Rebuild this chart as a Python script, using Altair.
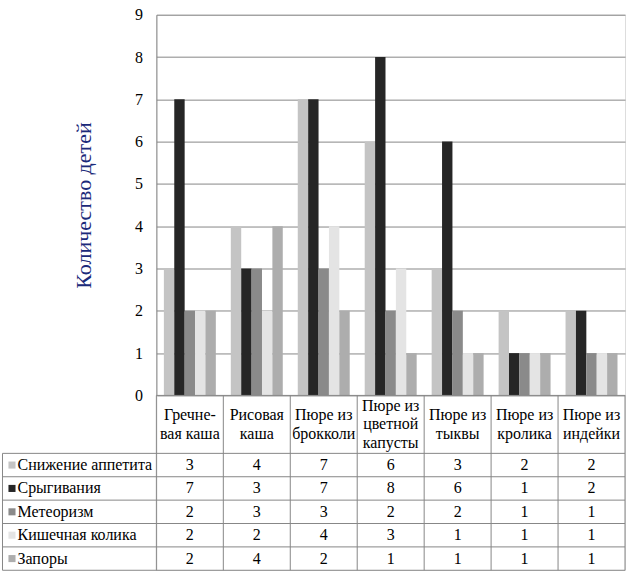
import altair as alt
import pandas as pd

# ---- data ----
categories = ["Гречне-\nвая каша", "Рисовая\nкаша", "Пюре из\nброкколи",
              "Пюре из\nцветной\nкапусты", "Пюре из\nтыквы", "Пюре из\nкролика",
              "Пюре из\nиндейки"]
series = ["Снижение аппетита", "Срыгивания", "Метеоризм", "Кишечная колика", "Запоры"]
appetite = [3, 4, 7, 6, 3, 2, 2]
regurgitation = [7, 3, 7, 8, 6, 1, 2]
meteorism = [2, 3, 3, 2, 2, 1, 1]
colic = [2, 2, 4, 3, 1, 1, 1]
constipation = [2, 4, 2, 1, 1, 1, 1]
y_ticks = list(range(0, 10))

values = [appetite, regurgitation, meteorism, colic, constipation]
greys = ["#c4c4c4", "#262626", "#8a8a8a", "#e4e4e4", "#adadad"]

FONT = "Times New Roman, Liberation Serif, DejaVu Serif, serif"
GRID = "#878787"

rows = []
for s_i, s in enumerate(series):
    for c_i, c in enumerate(categories):
        rows.append({"cat": c, "ci": c_i, "series": s, "si": s_i, "value": values[s_i][c_i]})
df = pd.DataFrame(rows)

color = alt.Color("series:N", scale=alt.Scale(domain=series, range=greys), legend=None)

# ---- bar chart ----
bars = alt.Chart(df).mark_bar().encode(
    x=alt.X("cat:N", sort=categories, axis=None,
            scale=alt.Scale(paddingInner=0.224, paddingOuter=0.112)),
    xOffset=alt.XOffset("series:N", sort=series,
                        scale=alt.Scale(paddingInner=0, paddingOuter=0)),
    y=alt.Y("value:Q", scale=alt.Scale(domain=[0, 9], nice=False),
            axis=alt.Axis(values=y_ticks, title="Количество детей", grid=True,
                          gridColor=GRID, domainColor=GRID, ticks=False,
                          labelFont=FONT, labelFontSize=16, labelColor="black",
                          labelPadding=14, titleFont=FONT, titleFontSize=22,
                          titleFontWeight="normal", titleColor="#1B2A7A",
                          titlePadding=39)),
    color=color,
).properties(width=469, height=381)

# ---- data table (left column lies to the left of the plot origin) ----
NCAT = len(categories)
NSER = len(series)
ROW_PX = 23.4
LABEL_W = 154 / 67.0          # left column width in column units
HEADER_H = 58 / ROW_PX        # header height in row units
LINE_H = 18.5                 # header line height in px
xs = alt.Scale(domain=[0, NCAT], nice=False, zero=False)
ys = alt.Scale(domain=[-HEADER_H, NSER], nice=False, zero=False, reverse=True)

cells = df.assign(xc=df["ci"] + 0.5, yc=df["si"] + 0.5, txt=df["value"].astype(str))
head = pd.DataFrame({
    "cat": categories,
    "xc": [i + 0.5 for i in range(NCAT)],
    "yc": [-HEADER_H / 2 - (c.count("\n") * LINE_H / 2) / ROW_PX for c in categories],
})
labels = pd.DataFrame({"series": series, "yc": [i + 0.5 for i in range(NSER)],
                       "xl": [-LABEL_W + 15 / 67.0] * NSER,
                       "xs": [-LABEL_W + 9.5 / 67.0] * NSER})
vlines = pd.DataFrame({"x": list(range(NCAT + 1)) + [-LABEL_W],
                       "y": [-HEADER_H] * (NCAT + 1) + [0],
                       "y2": [NSER] * (NCAT + 2)})
hlines = pd.DataFrame({"y": [-HEADER_H] + list(range(NSER + 1)),
                       "x": [0] + [-LABEL_W] * (NSER + 1),
                       "x2": [NCAT] * (NSER + 2)})

vrule = alt.Chart(vlines).mark_rule(color=GRID, strokeWidth=1).encode(
    x=alt.X("x:Q", scale=xs, axis=None), y=alt.Y("y:Q", scale=ys, axis=None), y2="y2:Q")
hrule = alt.Chart(hlines).mark_rule(color=GRID, strokeWidth=1).encode(
    x=alt.X("x:Q", scale=xs, axis=None), x2="x2:Q", y=alt.Y("y:Q", scale=ys, axis=None))
txt = alt.Chart(cells).mark_text(font=FONT, fontSize=16, color="black",
                                 baseline="middle", align="center").encode(
    x=alt.X("xc:Q", scale=xs, axis=None), y=alt.Y("yc:Q", scale=ys, axis=None), text="txt:N")
htxt = alt.Chart(head).mark_text(font=FONT, fontSize=16, color="black", lineBreak="\n",
                                 lineHeight=LINE_H, baseline="middle", align="center").encode(
    x=alt.X("xc:Q", scale=xs, axis=None), y=alt.Y("yc:Q", scale=ys, axis=None), text="cat:N")
ltxt = alt.Chart(labels).mark_text(font=FONT, fontSize=16, color="black",
                                   baseline="middle", align="left").encode(
    x=alt.X("xl:Q", scale=xs, axis=None), y=alt.Y("yc:Q", scale=ys, axis=None), text="series:N")
swatch = alt.Chart(labels).mark_square(size=50, opacity=1).encode(
    x=alt.X("xs:Q", scale=xs, axis=None), y=alt.Y("yc:Q", scale=ys, axis=None), color=color)

table = alt.layer(vrule, hrule, txt, htxt, ltxt, swatch).properties(width=469, height=175)

chart = alt.vconcat(bars, table, spacing=0, bounds="flush").properties(
    padding={"left": 1.5, "top": 5.5, "right": 1, "bottom": 0}
).configure_view(strokeWidth=0).configure(font=FONT)

chart.save("out.html", embed_options={"renderer": "svg", "actions": False})
